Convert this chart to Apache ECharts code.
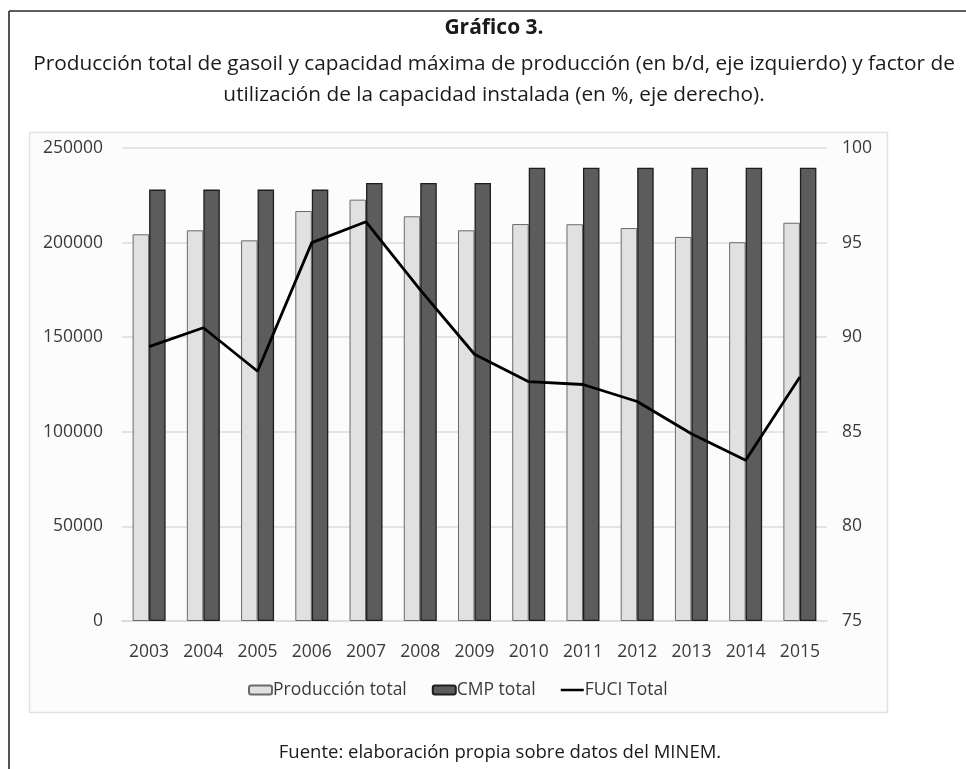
<!DOCTYPE html>
<html>
<head>
<meta charset="utf-8">
<script src="https://cdn.jsdelivr.net/npm/echarts@6/dist/echarts.min.js"></script>
<style>
  html, body { margin: 0; padding: 0; background: #ffffff; }
  #chart { width: 966px; height: 769px; }
</style>
</head>
<body>
<div id="chart"></div>
<script>
// Years on the category axis
const years = ['2003', '2004', '2005', '2006', '2007', '2008', '2009', '2010', '2011', '2012', '2013', '2014', '2015'];
// Producción total de gasoil (b/d)
const produccionTotal = [204400, 206500, 201200, 216700, 222700, 213900, 206500, 209800, 209700, 207700, 203000, 200200, 210500];
// Capacidad máxima de producción (b/d)
const cmpTotal = [228000, 228000, 228000, 228000, 231500, 231500, 231500, 239600, 239600, 239600, 239600, 239600, 239600];
// Factor de utilización de la capacidad instalada (%)
const fuciTotal = [89.5, 90.5, 88.2, 95.0, 96.1, 92.5, 89.1, 87.65, 87.5, 86.6, 84.9, 83.5, 87.9];

// Axis scales
const leftAxisMax = 250000;
const leftAxisStep = 50000;
const rightAxisMin = 75;
const rightAxisMax = 100;
const rightAxisStep = 5;

const FONT = '"Open Sans", "Noto Sans", sans-serif';
const TEXT = '#3a3a3a';

const chart = echarts.init(document.getElementById('chart'), null, { renderer: 'canvas' });

chart.setOption({
  backgroundColor: '#ffffff',
  animation: false,
  textStyle: { fontFamily: FONT },
  title: [
    {
      text: 'Gráfico 3.',
      left: 489, top: 13, textAlign: 'center',
      textStyle: { fontFamily: FONT, fontSize: 21, fontWeight: 'bold', color: '#1a1a1a' }
    },
    {
      text: 'Producción total de gasoil y capacidad máxima de producción (en b/d, eje izquierdo) y factor de\nutilización de la capacidad instalada (en %, eje derecho).',
      left: 489, top: 44, textAlign: 'center',
      textStyle: { fontFamily: FONT, fontSize: 20.8, fontWeight: 'normal', color: '#1a1a1a', lineHeight: 31, align: 'center' }
    },
    {
      text: 'Fuente: elaboración propia sobre datos del MINEM.',
      left: 495, top: 738, textAlign: 'center',
      textStyle: { fontFamily: FONT, fontSize: 18.5, fontWeight: 'normal', color: '#1a1a1a' }
    }
  ],
  graphic: [
    // chart area box
    {
      type: 'rect', z: -10, silent: true,
      shape: { x: 29.5, y: 132.5, width: 858, height: 580 },
      style: { fill: '#fcfcfc', stroke: '#e2e2e2', lineWidth: 1.5 }
    },
    // page frame
    {
      type: 'line', silent: true,
      shape: { x1: 9, y1: 11, x2: 966, y2: 11 },
      style: { stroke: '#2a2a2a', lineWidth: 1.6 }
    },
    {
      type: 'line', silent: true,
      shape: { x1: 9, y1: 11, x2: 9, y2: 769 },
      style: { stroke: '#2a2a2a', lineWidth: 1.6 }
    }
  ],
  grid: { left: 122, right: 139, top: 148, bottom: 148, containLabel: false },
  legend: {
    left: 248, top: 681, padding: 0,
    itemWidth: 23, itemHeight: 9, itemGap: 25,
    symbolKeepAspect: true,
    textStyle: { fontFamily: FONT, fontSize: 17.5, color: TEXT, padding: [0, 0, 0, -4] },
    data: [
      'Producción total',
      'CMP total',
      { name: 'FUCI Total', icon: 'path://M0,0 H46 V5 H0 Z', itemStyle: { color: '#000000', borderWidth: 0 } }
    ]
  },
  xAxis: {
    type: 'category',
    data: years,
    axisLine: { lineStyle: { color: '#d9d9d9', width: 1.5 } },
    axisTick: { show: false },
    axisLabel: { color: TEXT, fontSize: 17.5, fontFamily: FONT, margin: 22 }
  },
  yAxis: [
    {
      type: 'value', min: 0, max: leftAxisMax, interval: leftAxisStep,
      axisLine: { show: false }, axisTick: { show: false },
      axisLabel: { color: TEXT, fontSize: 17.5, fontFamily: FONT, margin: 19, formatter: (v) => String(v) },
      splitLine: { lineStyle: { color: '#dcdcdc', width: 1.5 } }
    },
    {
      type: 'value', min: rightAxisMin, max: rightAxisMax, interval: rightAxisStep,
      position: 'right',
      axisLine: { show: false }, axisTick: { show: false },
      axisLabel: { color: TEXT, fontSize: 17.5, fontFamily: FONT, margin: 15, formatter: (v) => String(v) },
      splitLine: { show: false }
    }
  ],
  series: [
    {
      name: 'Producción total', type: 'bar', yAxisIndex: 0,
      data: produccionTotal,
      barWidth: 16.5, barGap: '0%',
      itemStyle: { color: '#e1e1e1', borderColor: '#6a6a6a', borderWidth: 1 }
    },
    {
      name: 'CMP total', type: 'bar', yAxisIndex: 0,
      data: cmpTotal,
      barWidth: 16.5, barGap: '0%',
      itemStyle: { color: '#5c5c5c', borderColor: '#1e1e1e', borderWidth: 1.3 }
    },
    {
      name: 'FUCI Total', type: 'line', yAxisIndex: 1,
      data: fuciTotal,
      symbol: 'none', showSymbol: false,
      lineStyle: { color: '#000000', width: 2.8 },
      itemStyle: { color: '#000000' },
      z: 5
    }
  ]
});
</script>
</body>
</html>
